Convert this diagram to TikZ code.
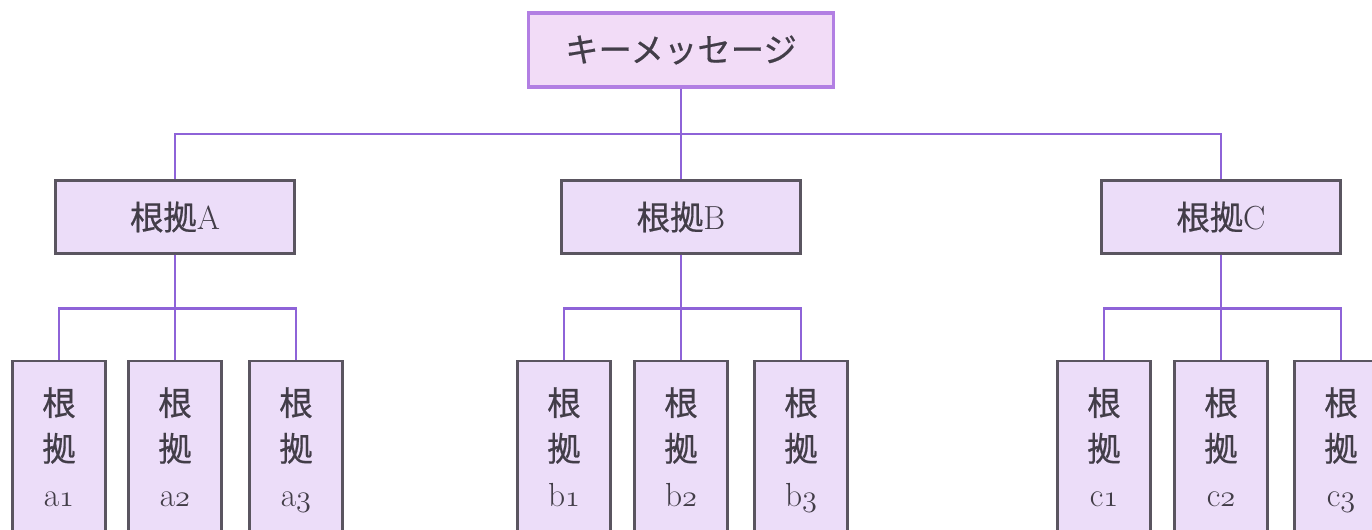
\documentclass[tikz,border=0pt]{standalone}
\usepackage{fontspec}
\usepackage{xcolor}
\usepackage{tikz}
\newfontfamily\jp{Noto Sans CJK JP}[FakeBold=0.6]
\definecolor{keyfill}{HTML}{F2DCF7}
\definecolor{keyline}{HTML}{B27FE3}
\definecolor{boxfill}{HTML}{ECDDF9}
\definecolor{boxline}{HTML}{5A5560}
\definecolor{linkcol}{HTML}{8E63D8}
\definecolor{txt}{HTML}{423D48}
\newcommand{\konkyo}{{\jp 根拠}}
\newcommand{\leaf}[2]{{\jp 根}\\{\jp 拠}\\#1\ensuremath{\mathnormal{#2}}}

\begin{document}
\begin{tikzpicture}[x=0.02cm,y=-0.02cm,font=\fontsize{19}{26}\selectfont,text=txt]
    \tikzstyle{keybox} = [rectangle, draw=keyline, line width=2.2pt, fill=keyfill, minimum width=6.1cm, minimum height=1.48cm, font=\jp\fontsize{19}{26}\selectfont]
    \tikzstyle{midbox} = [rectangle, draw=boxline, line width=1.3pt, fill=boxfill, minimum width=4.78cm, minimum height=1.46cm]
    \tikzstyle{leafbox} = [rectangle, draw=boxline, line width=1.3pt, fill=boxfill, minimum width=1.86cm, minimum height=3.68cm, align=center, inner sep=0pt, text depth=0.24cm]
    \tikzstyle{link} = [draw=linkcol, line width=1.6pt]
        \useasboundingbox (0,0) rectangle (1372,529);
        \clip (0,0) rectangle (1372,529);
        %%% key message %%%
        \node[keybox] (key) at (681,50) {キーメッセージ};
        %%% grounds %%%
        \node[midbox] (ra) at (175,217) {\konkyo A};
        \node[midbox] (rb) at (681,217) {\konkyo B};
        \node[midbox] (rc) at (1221,217) {\konkyo C};
        %%% leaves A
        \node[leafbox] (a1) at (59,453) {\leaf{a}{1}};
        \node[leafbox] (a2) at (175,453) {\leaf{a}{2}};
        \node[leafbox] (a3) at (296,453) {\leaf{a}{3}};
        %%% leaves B
        \node[leafbox] (b1) at (564,453) {\leaf{b}{1}};
        \node[leafbox] (b2) at (681,453) {\leaf{b}{2}};
        \node[leafbox] (b3) at (801,453) {\leaf{b}{3}};
        %%% leaves C
        \node[leafbox] (c1) at (1104,453) {\leaf{c}{1}};
        \node[leafbox] (c2) at (1221,453) {\leaf{c}{2}};
        \node[leafbox] (c3) at (1341,453) {\leaf{c}{3}};
        %%% connections
        \draw[link] (key.south) -- ++(0,45) -| (ra.north);
        \draw[link] (key.south) -- (rb.north);
        \draw[link] (key.south) -- ++(0,45) -| (rc.north);
        \draw[link] (ra.south) -- ++(0,54) -| (a1.north);
        \draw[link] (ra.south) -- (a2.north);
        \draw[link] (ra.south) -- ++(0,54) -| (a3.north);
        \draw[link] (rb.south) -- ++(0,54) -| (b1.north);
        \draw[link] (rb.south) -- (b2.north);
        \draw[link] (rb.south) -- ++(0,54) -| (b3.north);
        \draw[link] (rc.south) -- ++(0,54) -| (c1.north);
        \draw[link] (rc.south) -- (c2.north);
        \draw[link] (rc.south) -- ++(0,54) -| (c3.north);
    \end{tikzpicture}
\end{document}
